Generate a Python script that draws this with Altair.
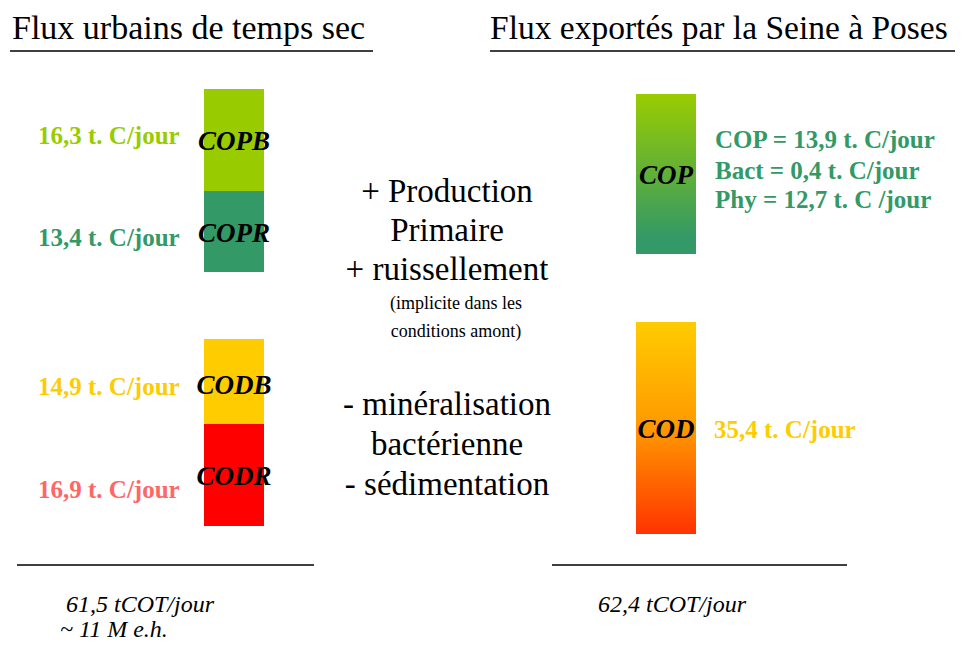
import altair as alt
import pandas as pd

# ---------------- values ----------------
titles = ["Flux urbains de temps sec", "Flux exportés par la Seine à Poses"]
left_parts = ["COPB", "COPR", "CODB", "CODR"]
left_flux = [16.3, 13.4, 14.9, 16.9]
right_parts = ["COP", "COD"]
cop_names = ["COP", "Bact", "Phy"]
cop_values = [13.9, 0.4, 12.7]
cod_value = 35.4
middle_big = ["+ Production", "Primaire", "+ ruissellement",
              "- minéralisation", "bactérienne", "- sédimentation"]
middle_small = ["(implicite dans les", "conditions amont)"]
totals = ["61,5 tCOT/jour", "~ 11 M e.h.", "62,4 tCOT/jour"]

# ---------------- layout / styles ----------------
left_colors = ["#99CC00", "#339966", "#FFCC00", "#FF0000"]
left_label_colors = ["#99CC00", "#339966", "#FFCC00", "#FF6666"]
left_box_x = (204, 264)
left_box_y = [(89, 191), (191, 272), (339, 424), (424, 526)]
left_label_y = [144, 246, 395, 498]
left_name_y = [150, 242, 394, 485]
right_box_x = (636, 696)
right_box_y = [(94, 254), (322, 534)]
right_name_y = [184, 438]
cop_detail_y = [148, 179, 208]
middle_big_y = [202, 241, 280, 415, 455, 495]
middle_small_y = [309, 337]
totals_xy = [(66, 612), (60, 637), (598, 612)]


def fmt(v):
    return f"{v:.1f}".replace(".", ",")


def X(f):
    return alt.X(f, type="quantitative",
                 scale=alt.Scale(domain=[8, 955], nice=False, zero=False), axis=None)


def Y(f):
    return alt.Y(f, type="quantitative",
                 scale=alt.Scale(domain=[8, 644], nice=False, zero=False, reverse=True),
                 axis=None)


SERIF = "Liberation Serif"

# boxes (solid)
left_boxes = pd.DataFrame({
    "name": left_parts,
    "x0": [left_box_x[0]] * 4, "x1": [left_box_x[1]] * 4,
    "y0": [a for a, b in left_box_y], "y1": [b for a, b in left_box_y],
    "color": left_colors,
})
boxes = alt.Chart(left_boxes).mark_rect().encode(
    x=X("x0"), x2="x1", y=Y("y0"), y2="y1",
    color=alt.Color("color:N", scale=None))

cop_df = pd.DataFrame({"x0": [right_box_x[0]], "x1": [right_box_x[1]],
                       "y0": [right_box_y[0][0]], "y1": [right_box_y[0][1]]})
cod_df = pd.DataFrame({"x0": [right_box_x[0]], "x1": [right_box_x[1]],
                       "y0": [right_box_y[1][0]], "y1": [right_box_y[1][1]]})
cop_box = alt.Chart(cop_df).mark_rect(color=alt.Gradient(
    gradient="linear",
    stops=[alt.GradientStop(color="#99CC00", offset=0),
           alt.GradientStop(color="#339966", offset=0.9),
           alt.GradientStop(color="#339966", offset=1)],
    x1=0, x2=0, y1=0, y2=1)).encode(x=X("x0"), x2="x1", y=Y("y0"), y2="y1")
cod_box = alt.Chart(cod_df).mark_rect(color=alt.Gradient(
    gradient="linear",
    stops=[alt.GradientStop(color="#FFCC00", offset=0),
           alt.GradientStop(color="#FF9900", offset=0.5),
           alt.GradientStop(color="#FF3300", offset=1)],
    x1=0, x2=0, y1=0, y2=1)).encode(x=X("x0"), x2="x1", y=Y("y0"), y2="y1")

# rules
rules_df = pd.DataFrame({
    "x0": [10, 490, 17, 552], "x1": [373, 963, 314, 847], "y": [51, 51, 565, 565]})
rules = alt.Chart(rules_df).mark_rule(color="black", strokeWidth=1.5).encode(
    x=X("x0"), x2="x1", y=Y("y"))

# titles
titles_df = pd.DataFrame({"t": titles, "x": [12, 490], "y": [39, 39],
                          "s": [34, 33.5]})
title_layer = alt.Chart(titles_df).mark_text(
    font=SERIF, align="left", baseline="alphabetic", color="black"
).encode(x=X("x"), y=Y("y"), text="t:N", size=alt.Size("s:Q", scale=None))

# left value labels
lab_df = pd.DataFrame({
    "t": [fmt(v) + " t. C/jour" for v in left_flux],
    "x": [38] * 4, "y": left_label_y, "color": left_label_colors})
lab_layer = alt.Chart(lab_df).mark_text(
    font=SERIF, fontSize=25, fontWeight="bold", align="left", baseline="alphabetic"
).encode(x=X("x"), y=Y("y"), text="t:N", color=alt.Color("color:N", scale=None))

# box names
names_df = pd.DataFrame({
    "t": left_parts + right_parts,
    "x": [sum(left_box_x) / 2] * 4 + [sum(right_box_x) / 2] * 2,
    "y": left_name_y + right_name_y})
names_layer = alt.Chart(names_df).mark_text(
    font=SERIF, fontSize=27, fontWeight="bold", fontStyle="italic",
    align="center", baseline="alphabetic", color="black"
).encode(x=X("x"), y=Y("y"), text="t:N")

# right details
det_texts = [f"COP = {fmt(cop_values[0])} t. C/jour",
             f"Bact = {fmt(cop_values[1])} t. C/jour",
             f"Phy = {fmt(cop_values[2])} t. C /jour",
             f"{fmt(cod_value)} t. C/jour"]
det_df = pd.DataFrame({
    "t": det_texts, "x": [715, 715, 715, 714], "y": cop_detail_y + [438],
    "color": ["#339966"] * 3 + ["#FFCC00"]})
det_layer = alt.Chart(det_df).mark_text(
    font=SERIF, fontSize=25, fontWeight="bold", align="left", baseline="alphabetic"
).encode(x=X("x"), y=Y("y"), text="t:N", color=alt.Color("color:N", scale=None))

# middle texts
mid_df = pd.DataFrame({"t": middle_big, "x": [447] * 6, "y": middle_big_y})
mid_layer = alt.Chart(mid_df).mark_text(
    font=SERIF, fontSize=33, align="center", baseline="alphabetic", color="black"
).encode(x=X("x"), y=Y("y"), text="t:N")
mids_df = pd.DataFrame({"t": middle_small, "x": [456] * 2, "y": middle_small_y})
mids_layer = alt.Chart(mids_df).mark_text(
    font=SERIF, fontSize=18, align="center", baseline="alphabetic", color="black"
).encode(x=X("x"), y=Y("y"), text="t:N")

# totals
tot_df = pd.DataFrame({"t": totals, "x": [a for a, b in totals_xy],
                       "y": [b for a, b in totals_xy]})
tot_layer = alt.Chart(tot_df).mark_text(
    font=SERIF, fontSize=24, fontStyle="italic", align="left",
    baseline="alphabetic", color="black"
).encode(x=X("x"), y=Y("y"), text="t:N")

chart = alt.layer(
    boxes, cop_box, cod_box, rules, title_layer, lab_layer, names_layer,
    det_layer, mid_layer, mids_layer, tot_layer
).properties(
    width=947, height=636, padding=0,
    autosize=alt.AutoSizeParams(type="none"),
    background="white"
).configure_view(stroke=None)

chart.save("out.html", embed_options={"renderer": "svg", "actions": False})
